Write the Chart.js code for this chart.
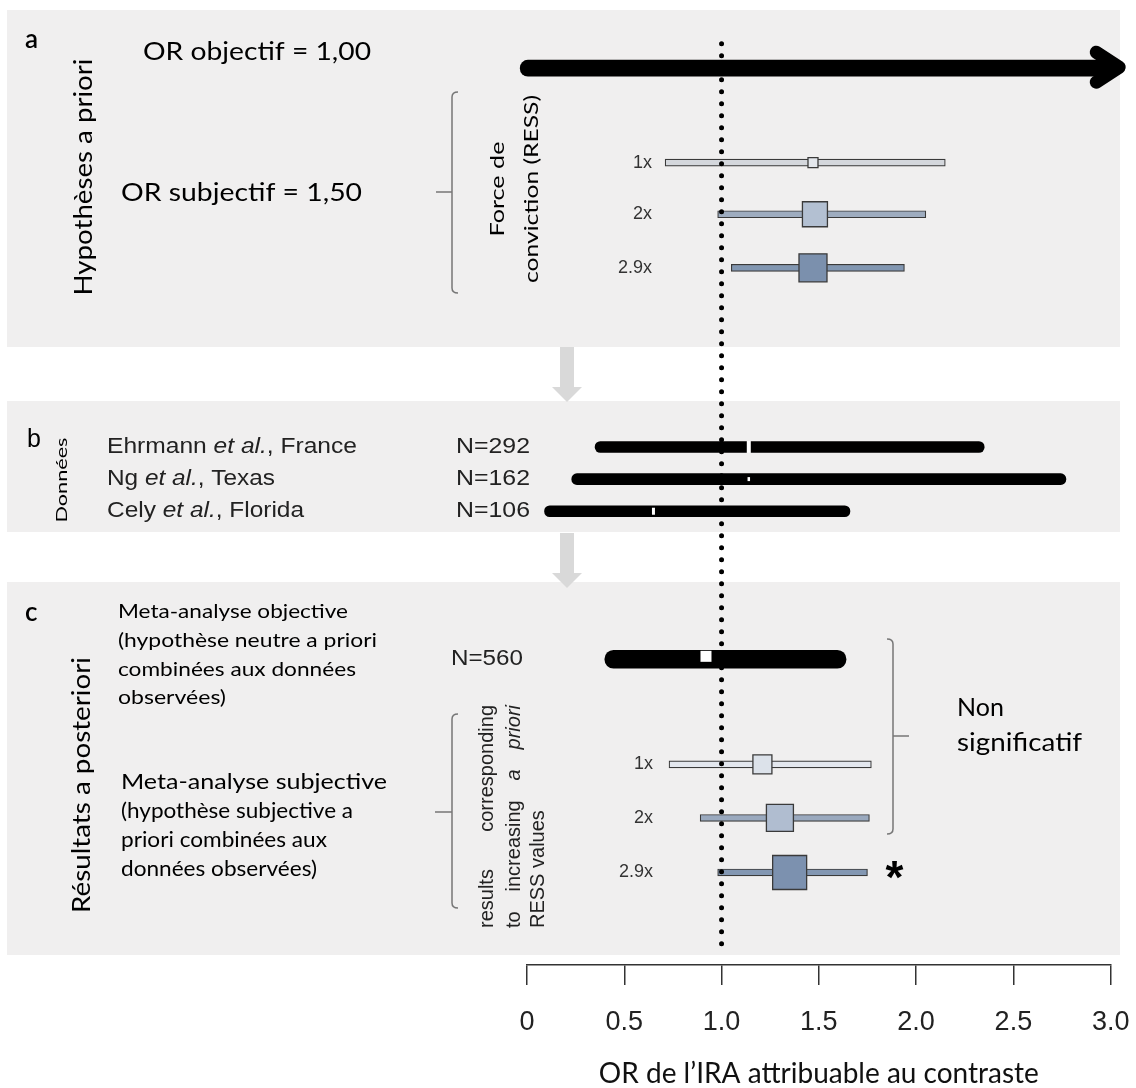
<!DOCTYPE html>
<html>
<head>
<meta charset="utf-8">
<script src="https://cdn.jsdelivr.net/npm/chart.js@4.4.0/dist/chart.umd.min.js"></script>
<style>
html,body{margin:0;padding:0;background:#fff;}
#wrap{width:1136px;height:1088px;position:relative;}
canvas{display:block;}
</style>
</head>
<body>
<div id="wrap"><canvas id="c" width="1136" height="1088"></canvas></div>
<script>
// ---------------- DATA ----------------
const X_TICKS = [0, 0.5, 1.0, 1.5, 2.0, 2.5, 3.0];
const X_TICK_LABELS = ['0', '0.5', '1.0', '1.5', '2.0', '2.5', '3.0'];
const NULL_OR = 1.0;

// a) objective (flat) prior: OR = 1,00, unbounded interval (arrow)
const OBJECTIVE_PRIOR_SPAN = [-0.035, 3.04];
const OBJECTIVE_ARROW_TIP = 3.08;

// a) subjective prior OR = 1,50 with three RESS strengths
const PRIOR_LABELS = ['1x', '2x', '2.9x'];
const PRIOR_OR = [1.47, 1.48, 1.47];
const PRIOR_LOW = [0.71, 0.98, 1.05];
const PRIOR_HIGH = [2.15, 2.05, 1.94];

// b) observed studies
const STUDY_AUTHORS = ['Ehrmann', 'Ng', 'Cely'];
const STUDY_PLACES = ['France', 'Texas', 'Florida'];
const STUDY_N = [292, 162, 106];
const STUDY_OR = [1.14, 1.14, 0.65];
const STUDY_LOW = [0.35, 0.23, 0.09];
const STUDY_HIGH = [2.35, 2.77, 1.66];

// c) objective meta-analysis
const META_N = [560];
const META_OR = [0.92];
const META_LOW = [0.40];
const META_HIGH = [1.64];

// c) subjective meta-analyses
const POST_LABELS = ['1x', '2x', '2.9x'];
const POST_OR = [1.21, 1.30, 1.35];
const POST_LOW = [0.73, 0.89, 0.98];
const POST_HIGH = [1.77, 1.76, 1.75];
const POST_SIGNIF = [false, false, true];

// ---------------- LAYOUT / STYLE ----------------
const ROWS = {
  objective: 44,
  prior: [141, 194, 249],
  study: [433, 466, 499],
  meta: [651],
  post: [759, 814, 870],
  nullLine: [19, 946]
};
const STYLE = {
  panel: '#f0efef',
  priorBar: ['#d4d7dc', '#9eacbf', '#8196b1'],
  priorSq: ['#e4e7ec', '#b3c0d2', '#7b90ad'],
  priorSqSide: [10, 25, 28],
  postBar: ['#e3e7ee', '#9aa9be', '#8397b2'],
  postSq: ['#dce2ea', '#b0bdd0', '#7c91af'],
  postSqSide: [19, 27, 34],
  edge: '#3a3a3a'
};
const CAL = 'Lato';
const ARI = '"Liberation Sans", Arial, sans-serif';
const sideToR = s => s / (2 * Math.SQRT1_2);

// ---------------- DATASETS ----------------
const datasets = [
  { // null-effect dotted line
    type: 'line', label: 'OR = 1',
    data: ROWS.nullLine.map(y => ({x: NULL_OR, y})),
    borderColor: '#000', borderWidth: 5, borderDash: [0, 12], borderCapStyle: 'round',
    pointRadius: 0, order: -1, clip: false
  },
  { // objective prior shaft
    type: 'bar', label: 'a priori objectif',
    data: [{x: OBJECTIVE_PRIOR_SPAN, y: ROWS.objective}],
    backgroundColor: '#000', barThickness: 16, borderRadius: 8, borderSkipped: false,
    grouped: false, order: 5, clip: false
  },
  { // subjective prior intervals
    type: 'bar', label: 'a priori subjectif',
    data: PRIOR_LOW.map((lo, i) => ({x: [lo, PRIOR_HIGH[i]], y: ROWS.prior[i]})),
    backgroundColor: STYLE.priorBar, borderColor: STYLE.edge, borderWidth: 1.2,
    borderSkipped: false, barThickness: 7, grouped: false, order: 5, clip: false
  },
  { // subjective prior point estimates
    type: 'scatter', label: 'prior OR',
    data: PRIOR_OR.map((v, i) => ({x: v, y: ROWS.prior[i]})),
    pointStyle: 'rect', pointRadius: STYLE.priorSqSide.map(sideToR),
    pointBackgroundColor: STYLE.priorSq, pointBorderColor: STYLE.edge, pointBorderWidth: 1.3,
    order: 2, clip: false
  },
  { // studies
    type: 'bar', label: 'études',
    data: STUDY_LOW.map((lo, i) => ({x: [lo, STUDY_HIGH[i]], y: ROWS.study[i]})),
    backgroundColor: '#000', barThickness: 11, borderRadius: 6, borderSkipped: false,
    grouped: false, order: 5, clip: false
  },
  { // study point estimates (white marks)
    type: 'scatter', label: 'OR études',
    data: STUDY_OR.map((v, i) => ({x: v, y: ROWS.study[i]})),
    pointStyle: 'line', rotation: 90, pointRadius: [6, 2, 3.5],
    pointBorderColor: '#fff', pointBorderWidth: [4, 2.5, 3],
    order: 2, clip: false
  },
  { // objective meta-analysis
    type: 'bar', label: 'méta objective',
    data: META_LOW.map((lo, i) => ({x: [lo, META_HIGH[i]], y: ROWS.meta[i]})),
    backgroundColor: '#000', barThickness: 18, borderRadius: 9, borderSkipped: false,
    grouped: false, order: 5, clip: false
  },
  {
    type: 'scatter', label: 'OR méta objective',
    data: META_OR.map((v, i) => ({x: v, y: ROWS.meta[i] - 3})),
    pointStyle: 'rect', pointRadius: sideToR(11), pointBackgroundColor: '#fff',
    pointBorderWidth: 0, order: 2, clip: false
  },
  { // subjective meta-analyses
    type: 'bar', label: 'méta subjective',
    data: POST_LOW.map((lo, i) => ({x: [lo, POST_HIGH[i]], y: ROWS.post[i]})),
    backgroundColor: STYLE.postBar, borderColor: STYLE.edge, borderWidth: 1.2,
    borderSkipped: false, barThickness: 7, grouped: false, order: 5, clip: false
  },
  {
    type: 'scatter', label: 'OR méta subjective',
    data: POST_OR.map((v, i) => ({x: v, y: ROWS.post[i]})),
    pointStyle: 'rect', pointRadius: STYLE.postSqSide.map(sideToR),
    pointBackgroundColor: STYLE.postSq, pointBorderColor: STYLE.edge, pointBorderWidth: 1.3,
    order: 2, clip: false
  }
];

// ---------------- DRAW HELPERS ----------------
function drawSegs(ctx, segs, x, y, o) {
  ctx.save();
  ctx.fillStyle = o.color || '#000';
  ctx.textBaseline = 'middle';
  ctx.textAlign = 'left';
  const fam = o.family || CAL;
  const fontFor = it => `${it ? 'italic ' : ''}${o.weight || 'normal'} ${o.size}px ${fam}`;
  const widths = segs.map(s => { ctx.font = fontFor(s[1]); return ctx.measureText(s[0]).width; });
  const total = widths.reduce((a, b) => a + b, 0);
  let gap = 0;
  if (o.justify && o.width && segs.length > 1) gap = (o.width - total) / (segs.length - 1);
  const full = total + gap * (segs.length - 1);
  const sx = (o.width && !o.justify) ? o.width / total : 1;
  ctx.translate(x, y);
  if (o.rotate) ctx.rotate(-Math.PI / 2);
  ctx.scale(sx, 1);
  let cx = o.align === 'center' ? -full / 2 : (o.align === 'right' ? -full : 0);
  segs.forEach((s, i) => { ctx.font = fontFor(s[1]); ctx.fillText(s[0], cx, 0); cx += widths[i] + gap; });
  ctx.restore();
}
function bracket(ctx, x, y1, y2, ty, tickTo, dir) {
  ctx.save();
  ctx.strokeStyle = '#777'; ctx.lineWidth = 1.5;
  ctx.beginPath();
  ctx.moveTo(x + 6 * dir, y1);
  ctx.quadraticCurveTo(x, y1, x, y1 + 5);
  ctx.lineTo(x, y2 - 5);
  ctx.quadraticCurveTo(x, y2, x + 6 * dir, y2);
  ctx.moveTo(x, ty); ctx.lineTo(tickTo, ty);
  ctx.stroke();
  ctx.restore();
}
function grayArrow(ctx, cx, y1, y2, tip) {
  ctx.save();
  ctx.fillStyle = '#d9d9d9';
  ctx.fillRect(cx - 7, y1, 14, y2 - y1);
  ctx.beginPath();
  ctx.moveTo(cx - 15, y2); ctx.lineTo(cx + 15, y2); ctx.lineTo(cx, tip); ctx.closePath();
  ctx.fill();
  ctx.restore();
}

const decor = {
  id: 'decor',
  beforeDatasetsDraw(chart) {
    const ctx = chart.ctx;
    ctx.save();
    ctx.fillStyle = STYLE.panel;
    ctx.fillRect(7, 10, 1113, 337);
    ctx.fillRect(7, 401, 1113, 131);
    ctx.fillRect(7, 582, 1113, 373);
    ctx.restore();
    grayArrow(ctx, 567, 347, 387, 402);
    grayArrow(ctx, 567, 533, 573, 588);
    bracket(ctx, 452, 92, 293, 192, 436, 1);
    bracket(ctx, 452, 714, 908, 812, 435, 1);
    bracket(ctx, 893, 639, 834, 736, 909, -1);
  },
  afterDatasetsDraw(chart) {
    const ctx = chart.ctx;
    const xs = chart.scales.x, ys = chart.scales.y;
    // arrow head of the objective prior
    const tx = xs.getPixelForValue(OBJECTIVE_ARROW_TIP) - 7;
    const ay = ys.getPixelForValue(ROWS.objective) - 1;
    ctx.save();
    ctx.strokeStyle = '#000'; ctx.lineWidth = 13; ctx.lineCap = 'round'; ctx.lineJoin = 'round';
    ctx.beginPath();
    ctx.moveTo(tx - 23, ay - 15); ctx.lineTo(tx, ay); ctx.lineTo(tx - 23, ay + 15);
    ctx.stroke();
    ctx.restore();

    // panel letters
    drawSegs(ctx, [['a']], 25, 40, {size: 26, weight: '600'});
    drawSegs(ctx, [['b']], 27, 440, {size: 25, family: ARI});
    drawSegs(ctx, [['c']], 25, 613, {size: 26, weight: '600'});

    // panel a
    drawSegs(ctx, [['OR objectif = 1,00']], 143, 52, {size: 25, width: 228});
    drawSegs(ctx, [['OR subjectif = 1,50']], 121, 193, {size: 25, width: 241});
    drawSegs(ctx, [['Hypothèses a priori']], 84, 177, {size: 25, width: 237, rotate: true, align: 'center'});
    drawSegs(ctx, [['Force de']], 498, 189, {size: 20, width: 95, rotate: true, align: 'center'});
    drawSegs(ctx, [['conviction (RESS)']], 532, 189, {size: 20, width: 188, rotate: true, align: 'center'});
    PRIOR_LABELS.forEach((t, i) => drawSegs(ctx, [[t]], 652, ys.getPixelForValue(ROWS.prior[i]), {size: 18, family: ARI, color: '#333', align: 'right'}));

    // panel b
    drawSegs(ctx, [['Données']], 62, 480, {size: 16, width: 85, rotate: true, align: 'center'});
    const studyW = [250, 168, 197];
    STUDY_AUTHORS.forEach((a, i) => {
      const yy = ys.getPixelForValue(ROWS.study[i]);
      drawSegs(ctx, [[a + ' '], ['et al.', true], [', ' + STUDY_PLACES[i]]], 107, yy, {size: 22, family: ARI, color: '#222', width: studyW[i]});
      drawSegs(ctx, [['N=' + STUDY_N[i]]], 456, yy, {size: 22, family: ARI, color: '#222', width: 74});
    });

    // panel c
    drawSegs(ctx, [['Résultats a posteriori']], 82, 785, {size: 25, width: 256, rotate: true, align: 'center'});
    const objLines = [['Meta-analyse objective', 230], ['(hypothèse neutre a priori', 259], ['combinées aux données', 238], ['observées)', 108]];
    [612, 641, 670, 698].forEach((yy, i) => drawSegs(ctx, [[objLines[i][0]]], 118, yy, {size: 20, width: objLines[i][1]}));
    const subLines = [['Meta-analyse subjective', 266], ['(hypothèse subjective a', 232], ['priori combinées aux', 206], ['données observées)', 196]];
    [782, 811, 840, 869].forEach((yy, i) => drawSegs(ctx, [[subLines[i][0]]], 121, yy, {size: 21, width: subLines[i][1]}));
    drawSegs(ctx, [['N=' + META_N[0]]], 451, ys.getPixelForValue(ROWS.meta[0]), {size: 22, family: ARI, color: '#222', width: 72});
    drawSegs(ctx, [['results'], ['corresponding']], 487, 928, {size: 20, family: ARI, color: '#222', rotate: true, justify: true, width: 223});
    drawSegs(ctx, [['to'], ['increasing'], ['a', true], ['priori', true]], 514, 928, {size: 20, family: ARI, color: '#222', rotate: true, justify: true, width: 223});
    drawSegs(ctx, [['RESS values']], 538, 928, {size: 20, family: ARI, color: '#222', rotate: true});
    POST_LABELS.forEach((t, i) => drawSegs(ctx, [[t]], 653, ys.getPixelForValue(ROWS.post[i]), {size: 18, family: ARI, color: '#333', align: 'right'}));
    drawSegs(ctx, [['Non']], 957, 708, {size: 25});
    drawSegs(ctx, [['significatif']], 957, 743, {size: 25, width: 125});
    POST_SIGNIF.forEach((s, i) => {
      if (!s) return;
      ctx.save();
      ctx.fillStyle = '#000';
      ctx.font = 'bold 46px ' + ARI;
      ctx.textAlign = 'center';
      ctx.textBaseline = 'alphabetic';
      ctx.fillText('*', xs.getPixelForValue(POST_HIGH[i]) + 27, ys.getPixelForValue(ROWS.post[i]) + 21);
      ctx.restore();
    });
  }
};

new Chart(document.getElementById('c'), {
  type: 'bar',
  data: {datasets},
  plugins: [decor],
  options: {
    indexAxis: 'y',
    responsive: false,
    maintainAspectRatio: false,
    animation: false,
    events: [],
    layout: {padding: {left: 527, right: 24, top: 0, bottom: 0}},
    plugins: {legend: {display: false}, tooltip: {enabled: false}},
    scales: {
      x: {
        type: 'linear', position: 'bottom', min: 0, max: 3,
        afterBuildTicks: s => { s.ticks = X_TICKS.map(v => ({value: v})); },
        afterFit: s => { s.paddingLeft = 0; s.paddingRight = 0; },
        ticks: {
          callback: (v, i) => X_TICK_LABELS[i],
          font: {family: 'Liberation Sans', size: 27, lineHeight: 1},
          color: '#222', padding: 24, maxRotation: 0, autoSkip: false
        },
        grid: {drawOnChartArea: false, drawTicks: true, tickLength: 20, color: '#333', lineWidth: 1.5},
        border: {display: true, color: '#333', width: 1.5},
        title: {
          display: true, text: 'OR de l’IRA attribuable au contraste',
          font: {family: 'Lato', size: 28, lineHeight: 1}, color: '#111', padding: {top: 0, bottom: 0}
        }
      },
      y: {
        type: 'linear', min: 0, max: 965, reverse: true, display: false, offset: false,
        ticks: {stepSize: 965}
      }
    }
  }
});
</script>
</body>
</html>
